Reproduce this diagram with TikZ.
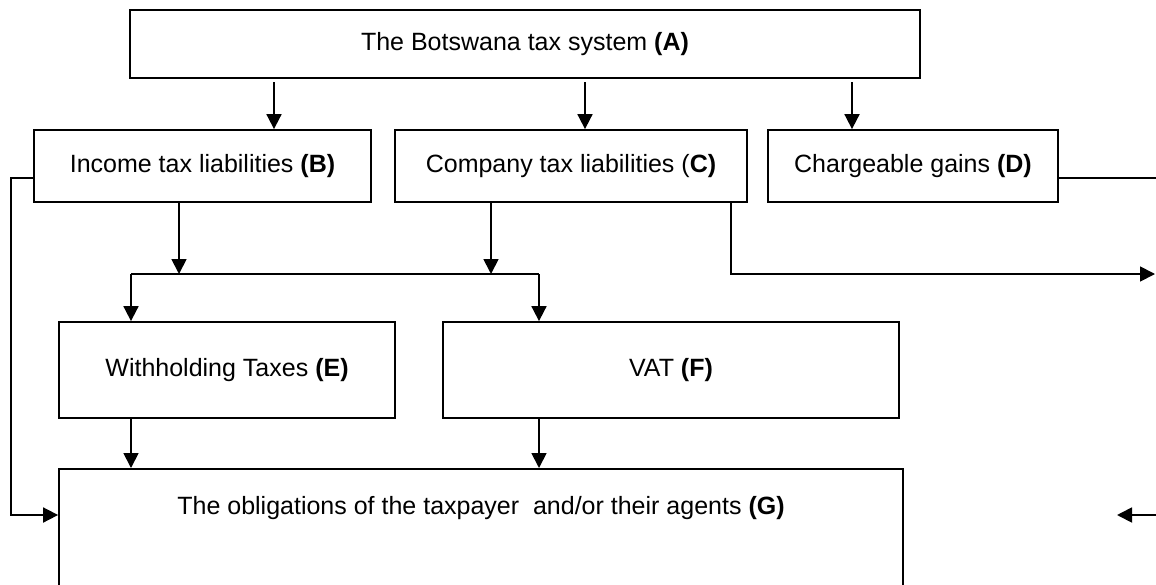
\documentclass[tikz,border=0pt]{standalone}
\usepackage{fontspec}
\setmainfont{Liberation Sans}
\usepackage{tikz}
\usetikzlibrary{arrows.meta}

\tikzset{
    taxbox/.style={draw,line width=0.9pt,inner sep=0pt,
      font=\fontsize{12.5}{15}\selectfont},
    arr/.style={line width=0.9pt,-{Triangle[length=7.5pt,width=7.5pt]}},
    con/.style={line width=0.9pt}
}

\begin{document}
\begin{tikzpicture}[x=0.5pt,y=-0.5pt]
\useasboundingbox (0,0) rectangle (1156,584);

%%% BOXES %%%
\node[taxbox,minimum width=395pt,minimum height=34pt] (A) at (525,44)
  {The Botswana tax system \textbf{(A)}};
\node[taxbox,minimum width=168.5pt,minimum height=36pt] (B) at (202.5,166)
  {Income tax liabilities \textbf{(B)}};
\node[taxbox,minimum width=176pt,minimum height=36pt] (C) at (571,166)
  {Company tax liabilities (\textbf{C)}};
\node[taxbox,minimum width=145pt,minimum height=36pt] (D) at (913,166)
  {Chargeable gains \textbf{(D)}};
\node[taxbox,minimum width=168pt,minimum height=48pt] (E) at (227,370)
  {Withholding Taxes \textbf{(E)}};
\node[taxbox,minimum width=228pt,minimum height=48pt] (F) at (671,370)
  {VAT \textbf{(F)}};
\node[taxbox,minimum width=422pt,anchor=north,inner ysep=14pt,
  text height=9pt,text depth=50pt] (G) at (481,468)
  {The obligations of the taxpayer\ \ and/or their agents \textbf{(G)}};

%%% COORDINATES %%%
\coordinate (ab) at (274,82); % to B
\coordinate (ac) at (585,82); % to C
\coordinate (ad) at (852,82); % to D
\coordinate (bd) at (179,274); % B down
\coordinate (cd) at (491,274); % C down
\coordinate (jl) at (131,274); % split left
\coordinate (jr) at (539,274); % split right
\coordinate (cr) at (731,274); % C right branch
\coordinate (cend) at (1155,274);
\coordinate (dout) at (1170,178); % D out of frame
\coordinate (lg) at (11,515); % left loop
\coordinate (rin) at (1170,515); % from out of frame
\coordinate (rtip) at (1117,515);

%%% ARROWS FROM A %%%
\draw[arr] (ab) -- (ab |- B.north);
\draw[arr] (ac) -- (ac |- C.north);
\draw[arr] (ad) -- (ad |- D.north);

%%% MIDDLE ROW %%%
\draw[arr] (bd |- B.south) -- (bd);
\draw[arr] (cd |- C.south) -- (cd);
\draw[con] (jl) -- (jr);
\draw[arr] (jl) -- (jl |- E.north);
\draw[arr] (jr) -- (jr |- F.north);
\draw[arr] (cr |- C.south) -- (cr) -- (cend);
\draw[con] ([yshift=-6pt]D.east) -- (dout);

%%% INTO G %%%
\draw[arr] (jl |- E.south) -- (jl |- G.north);
\draw[arr] (jr |- F.south) -- (jr |- G.north);
\draw[arr] ([yshift=-6pt]B.west) -| (lg) -- (lg -| G.west);
\draw[arr] (rin) -- (rtip);
\end{tikzpicture}
\end{document}
